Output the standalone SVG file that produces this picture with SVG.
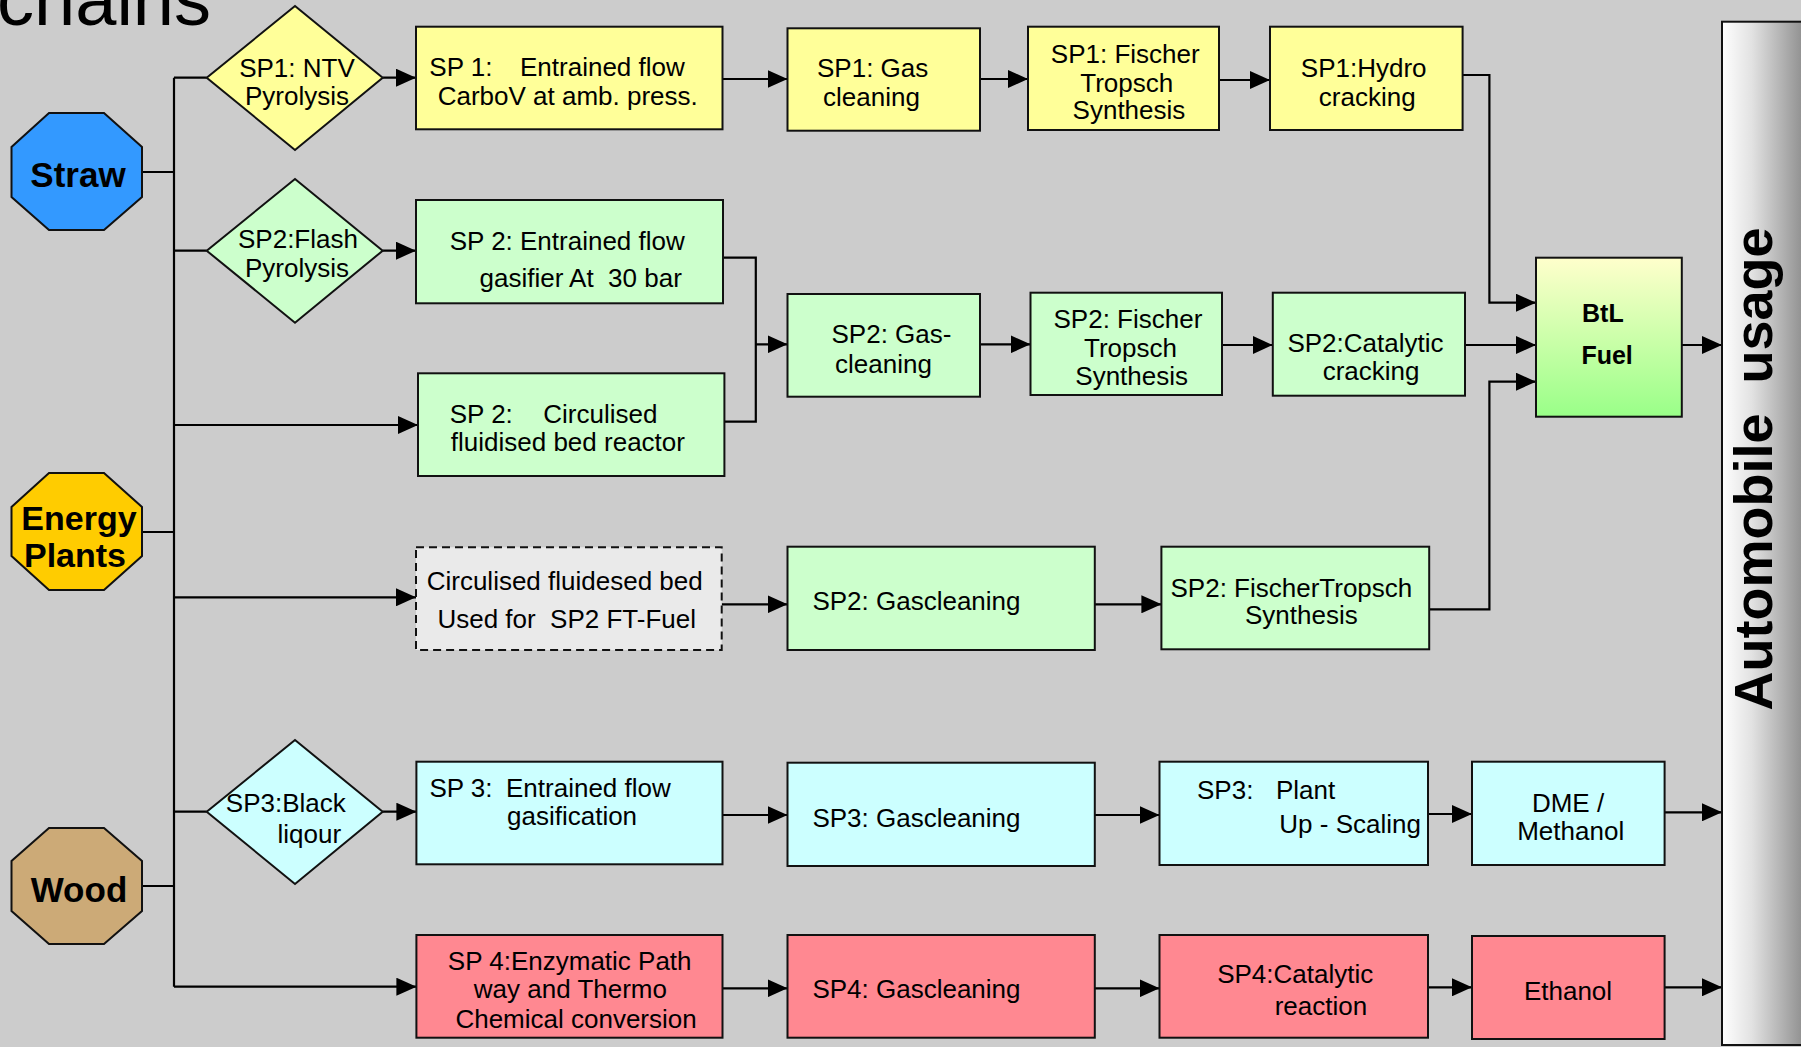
<svg xmlns="http://www.w3.org/2000/svg" width="1801" height="1047" viewBox="0 0 1801 1047">
<defs>
<style>
text{font-family:"Liberation Sans",Arial,sans-serif;font-size:26px;fill:#000;white-space:pre}
.b{font-weight:bold}
.box{stroke:#111;stroke-width:2}
.y{fill:#FFFF99}.g{fill:#CCFFCC}.c{fill:#CCFFFF}.p{fill:#FF8891}
.con{fill:none;stroke:#000;stroke-width:2.2}
.arr{marker-end:url(#ah)}
</style>
<marker id="ah" viewBox="0 0 20 18" refX="20" refY="9" markerWidth="20" markerHeight="18" markerUnits="userSpaceOnUse" orient="auto">
<path d="M0,0 L20,9 L0,18 z" fill="#000"/>
</marker>
<linearGradient id="btl" x1="0" y1="0" x2="0" y2="1">
<stop offset="0" stop-color="#FFFFCC"/>
<stop offset="1" stop-color="#99FF88"/>
</linearGradient>
<linearGradient id="bar" x1="0" y1="0" x2="1" y2="0">
<stop offset="0" stop-color="#FFFFFF"/>
<stop offset="0.35" stop-color="#E2E2E2"/>
<stop offset="1" stop-color="#8A8A8A"/>
</linearGradient>
</defs>
<rect width="1801" height="1047" fill="#CCCCCC"/>
<text x="211" y="25" text-anchor="end" style="font-size:74px">chains</text>

<g id="connectors">
<path class="con" d="M142,172 H174 M142,532 H174 M142,886 H174 M174,77.7 V986.7 M174,77.7 H206.7 M174,250.7 H206.7 M174,811.7 H206.7"/>
<path class="con arr" d="M174,425 H418"/>
<path class="con arr" d="M174,597.3 H416"/>
<path class="con arr" d="M174,986.7 H416.4"/>
<path class="con arr" d="M382.7,77.7 H416"/>
<path class="con arr" d="M382.7,250.7 H416"/>
<path class="con arr" d="M382.7,811.7 H416.4"/>
<path class="con arr" d="M722.5,79 H787.5"/>
<path class="con arr" d="M980,79 H1028"/>
<path class="con arr" d="M1219,80 H1270"/>
<path class="con arr" d="M1462.6,75 H1489.4 V302.7 H1536"/>
<path class="con" d="M723,257.7 H755.8 V421.7 H724.4"/>
<path class="con arr" d="M755.8,344.3 H787.5"/>
<path class="con arr" d="M980,344.3 H1030.5"/>
<path class="con arr" d="M1222,345 H1272.8"/>
<path class="con arr" d="M1465,345 H1536"/>
<path class="con arr" d="M1429.2,609.3 H1489.4 V381.7 H1536"/>
<path class="con arr" d="M1681.8,345 H1722"/>
<path class="con arr" d="M721.7,604.3 H787.5"/>
<path class="con arr" d="M1094.8,604.3 H1161.4"/>
<path class="con arr" d="M722.5,815 H787.5"/>
<path class="con arr" d="M1094.8,815 H1159.5"/>
<path class="con arr" d="M1428,814 H1472"/>
<path class="con arr" d="M1664.6,812.3 H1722"/>
<path class="con arr" d="M722.5,988.3 H787.5"/>
<path class="con arr" d="M1094.8,988.3 H1159.5"/>
<path class="con arr" d="M1428,987.3 H1472"/>
<path class="con arr" d="M1664.6,987.3 H1722"/>
</g>

<g id="straw">
<polygon class="box" fill="#3399FF" points="49,113 104,113 142,147 142,197 104,230 49,230 11.5,197 11.5,147"/>
<text class="b" x="78" y="187" text-anchor="middle" style="font-size:35px">Straw</text>
</g>
<g id="energy-plants">
<polygon class="box" fill="#FFCC00" points="49,473 104,473 142,507 142,556 104,590 49,590 11.5,556 11.5,507"/>
<text class="b" x="79" y="530" text-anchor="middle" style="font-size:34px">Energy</text>
<text class="b" x="75" y="566.7" text-anchor="middle" style="font-size:34px">Plants</text>
</g>
<g id="wood">
<polygon class="box" fill="#CCAA77" points="49,828 104,828 142,861 142,911 104,944 49,944 11.5,911 11.5,861"/>
<text class="b" x="79" y="901.7" text-anchor="middle" style="font-size:35px">Wood</text>
</g>

<g id="sp1-ntv">
<polygon fill="#FFFF99" stroke="#111" stroke-width="2" points="295,6 382.7,77.7 295,150 206.7,77.7"/>
<text x="239.2" y="76.7">SP1: NTV</text>
<text x="245" y="105">Pyrolysis</text>
</g>
<g id="sp2-flash">
<polygon fill="#CCFFCC" stroke="#111" stroke-width="2" points="295,179 382.7,250.7 295,322.7 206.7,250.7"/>
<text x="238" y="248.3">SP2:Flash</text>
<text x="245" y="276.7">Pyrolysis</text>
</g>
<g id="sp3-black">
<polygon fill="#CCFFFF" stroke="#111" stroke-width="2" points="295,740 382.7,811.7 295,884 206.7,811.7"/>
<text x="225.8" y="811.7">SP3:Black</text>
<text x="277.5" y="842.7">liqour</text>
</g>

<g id="sp1-entrained">
<rect class="box y" x="416" y="26.7" width="306.5" height="102.6"/>
<text x="429.3" y="76">SP 1:<tspan x="520">Entrained flow</tspan></text>
<text x="437.7" y="105">CarboV at amb. press.</text>
</g>
<g id="sp1-gas">
<rect class="box y" x="787.5" y="28.3" width="192.5" height="102.4"/>
<text x="817" y="77.3">SP1: Gas</text>
<text x="823" y="106">cleaning</text>
</g>
<g id="sp1-fischer">
<rect class="box y" x="1028" y="26.7" width="191" height="103.3"/>
<text x="1050.8" y="62.7">SP1: Fischer</text>
<text x="1080.3" y="91.7">Tropsch</text>
<text x="1072.6" y="119.3">Synthesis</text>
</g>
<g id="sp1-hydro">
<rect class="box y" x="1270" y="26.7" width="192.6" height="103.3"/>
<text x="1300.8" y="76.7">SP1:Hydro</text>
<text x="1318.8" y="106">cracking</text>
</g>

<g id="sp2-entrained">
<rect class="box g" x="416" y="200" width="307" height="103.3"/>
<text x="449.7" y="250">SP 2: Entrained flow</text>
<text x="479.5" y="287.3">gasifier At  30 bar</text>
</g>
<g id="sp2-circulised">
<rect class="box g" x="418" y="373.3" width="306.4" height="102.7"/>
<text x="449.7" y="423.3">SP 2:<tspan x="543.3">Circulised</tspan></text>
<text x="450.8" y="451">fluidised bed reactor</text>
</g>
<g id="sp2-gas">
<rect class="box g" x="787.5" y="294" width="192.5" height="102.7"/>
<text x="831.5" y="343.3">SP2: Gas-</text>
<text x="835" y="373.3">cleaning</text>
</g>
<g id="sp2-fischer">
<rect class="box g" x="1030.5" y="292.7" width="191.5" height="102.3"/>
<text x="1053.5" y="328.3">SP2: Fischer</text>
<text x="1084" y="357">Tropsch</text>
<text x="1075.3" y="385">Synthesis</text>
</g>
<g id="sp2-catalytic">
<rect class="box g" x="1272.8" y="292.7" width="192.2" height="103"/>
<text x="1287.4" y="351.7">SP2:Catalytic</text>
<text x="1322.7" y="380">cracking</text>
</g>
<g id="btl-fuel">
<rect class="box" fill="url(#btl)" x="1536" y="257.7" width="145.8" height="159"/>
<text class="b" x="1582" y="321.7" style="font-size:25px">BtL</text>
<text class="b" x="1581.4" y="364.3" style="font-size:25px">Fuel</text>
</g>

<g id="cfb-ft">
<rect fill="#EAEAEA" stroke="#111" stroke-width="2" stroke-dasharray="8,5" x="416" y="547.3" width="305.7" height="102.7"/>
<text x="426.7" y="590">Circulised fluidesed bed</text>
<text x="437.4" y="628.3">Used for  SP2 FT-Fuel</text>
</g>
<g id="sp2-gascleaning">
<rect class="box g" x="787.5" y="546.7" width="307.3" height="103.3"/>
<text x="812.4" y="610">SP2: Gascleaning</text>
</g>
<g id="sp2-ft-synthesis">
<rect class="box g" x="1161.4" y="546.7" width="267.8" height="102.6"/>
<text x="1170.5" y="596.7">SP2: FischerTropsch</text>
<text x="1245" y="624">Synthesis</text>
</g>

<g id="sp3-entrained">
<rect class="box c" x="416.4" y="761.7" width="306.1" height="102.6"/>
<text x="429.4" y="796.7">SP 3:<tspan x="506">Entrained flow</tspan></text>
<text x="507" y="825">gasification</text>
</g>
<g id="sp3-gascleaning">
<rect class="box c" x="787.5" y="762.7" width="307.3" height="103.3"/>
<text x="812.4" y="826.7">SP3: Gascleaning</text>
</g>
<g id="sp3-plant">
<rect class="box c" x="1159.5" y="761.7" width="268.5" height="103.3"/>
<text x="1197" y="799.3">SP3:<tspan x="1275.9">Plant</tspan></text>
<text x="1279.3" y="833.3">Up - Scaling</text>
</g>
<g id="dme">
<rect class="box c" x="1472" y="761.7" width="192.6" height="103.3"/>
<text x="1568" y="811.7" text-anchor="middle">DME /</text>
<text x="1570.7" y="840" text-anchor="middle">Methanol</text>
</g>

<g id="sp4-enzymatic">
<rect class="box p" x="416.4" y="935" width="306.1" height="102.7"/>
<text x="447.8" y="970">SP 4:Enzymatic Path</text>
<text x="473.8" y="998.3">way and Thermo</text>
<text x="455.4" y="1028.3">Chemical conversion</text>
</g>
<g id="sp4-gascleaning">
<rect class="box p" x="787.5" y="935" width="307.3" height="102.7"/>
<text x="812.4" y="998.3">SP4: Gascleaning</text>
</g>
<g id="sp4-catalytic">
<rect class="box p" x="1159.5" y="935" width="268.5" height="102.7"/>
<text x="1217.2" y="983.3">SP4:Catalytic</text>
<text x="1274.7" y="1015">reaction</text>
</g>
<g id="ethanol">
<rect class="box p" x="1472" y="936" width="192.6" height="103"/>
<text x="1568" y="1000" text-anchor="middle">Ethanol</text>
</g>

<g id="automobile-usage">
<rect fill="url(#bar)" stroke="#111" stroke-width="2" x="1722" y="21.7" width="85" height="1023.3"/>
<text class="b" transform="translate(1772,469) rotate(-90)" text-anchor="middle" style="font-size:54px">Automobile  usage</text>
</g>
</svg>
